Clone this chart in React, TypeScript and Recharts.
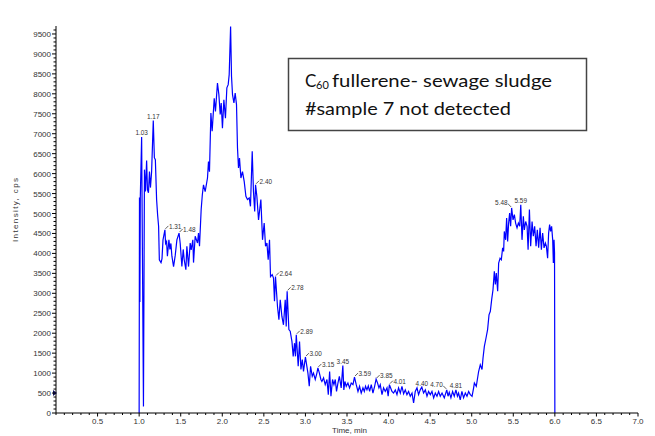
import React from 'react';
import { LineChart, Line, XAxis, YAxis, ReferenceDot } from 'recharts';

// retention time (min) and intensity (cps)
const times = [
  1.0, 1.004, 1.009, 1.014, 1.03, 1.052, 1.064, 1.076, 1.09, 1.1, 1.112, 1.124, 1.136, 1.15,
  1.17, 1.183, 1.195, 1.21, 1.222, 1.234, 1.243, 1.263, 1.275, 1.287, 1.31, 1.318, 1.33, 1.34,
  1.358, 1.37, 1.382, 1.394, 1.414, 1.434, 1.454, 1.48, 1.494, 1.514, 1.53, 1.542, 1.562, 1.574,
  1.594, 1.614, 1.626, 1.646, 1.654, 1.674, 1.702, 1.714, 1.726, 1.746, 1.76, 1.774, 1.794, 1.822,
  1.834, 1.846, 1.863, 1.878, 1.903, 1.918, 1.942, 1.959, 1.975, 1.987, 2.002, 2.019, 2.038, 2.055,
  2.071, 2.083, 2.1, 2.111, 2.123, 2.14, 2.155, 2.171, 2.183, 2.195, 2.207, 2.224, 2.243, 2.264,
  2.284, 2.303, 2.324, 2.339, 2.36, 2.375, 2.39, 2.4, 2.416, 2.436, 2.464, 2.484, 2.504, 2.52,
  2.537, 2.552, 2.568, 2.58, 2.6, 2.616, 2.628, 2.64, 2.664, 2.681, 2.697, 2.717, 2.736, 2.757,
  2.769, 2.78, 2.801, 2.817, 2.838, 2.853, 2.869, 2.88, 2.89, 2.913, 2.929, 2.946, 2.962, 2.977,
  2.99, 3.0, 3.03, 3.046, 3.062, 3.082, 3.097, 3.118, 3.138, 3.15, 3.168, 3.186, 3.198, 3.218,
  3.238, 3.259, 3.275, 3.291, 3.307, 3.326, 3.343, 3.359, 3.374, 3.391, 3.408, 3.43, 3.45, 3.462,
  3.475, 3.491, 3.511, 3.531, 3.551, 3.572, 3.59, 3.611, 3.632, 3.651, 3.671, 3.692, 3.708, 3.723,
  3.74, 3.756, 3.772, 3.792, 3.812, 3.832, 3.85, 3.868, 3.884, 3.9, 3.921, 3.94, 3.96, 3.981,
  3.995, 4.01, 4.041, 4.06, 4.081, 4.101, 4.12, 4.141, 4.161, 4.181, 4.201, 4.221, 4.241, 4.261,
  4.282, 4.301, 4.321, 4.342, 4.361, 4.381, 4.4, 4.421, 4.442, 4.462, 4.481, 4.502, 4.522, 4.542,
  4.562, 4.582, 4.602, 4.622, 4.643, 4.67, 4.7, 4.715, 4.73, 4.75, 4.77, 4.79, 4.81, 4.828,
  4.842, 4.862, 4.882, 4.902, 4.923, 4.943, 4.963, 4.983, 5.004, 5.023, 5.032, 5.055, 5.083, 5.103,
  5.124, 5.136, 5.152, 5.172, 5.191, 5.208, 5.224, 5.24, 5.256, 5.272, 5.284, 5.296, 5.312, 5.324,
  5.341, 5.356, 5.372, 5.384, 5.392, 5.408, 5.42, 5.432, 5.444, 5.456, 5.468, 5.48, 5.497, 5.513,
  5.528, 5.545, 5.561, 5.577, 5.59, 5.605, 5.621, 5.633, 5.649, 5.666, 5.678, 5.694, 5.709, 5.726,
  5.741, 5.757, 5.774, 5.789, 5.805, 5.822, 5.838, 5.853, 5.87, 5.886, 5.898, 5.913, 5.925, 5.937,
  5.949, 5.961, 5.974, 5.982, 5.99, 5.996, 6.0,
];

const intensity = [
  0, 5400, 2780, 5400, 6920, 160, 6100, 5550, 6330, 5600, 5520, 6050, 5650, 6050,
  7330, 6400, 6350, 5350, 4970, 4680, 3840, 3770, 3870, 4340, 4590, 4250, 4300, 3930,
  4340, 4100, 4250, 3930, 3670, 3950, 4340, 4510, 4250, 3670, 4100, 3840, 3590, 4180,
  3670, 4260, 4090, 4340, 3770, 4430, 4260, 4510, 4180, 5100, 5470, 5720, 5550, 5890,
  6300, 6050, 7520, 7060, 7890, 7560, 8270, 7980, 7480, 7770, 7140, 7850, 7390, 8150,
  8230, 8480, 9690, 8440, 7980, 7770, 8020, 7730, 6640, 6140, 6390, 5890, 6050, 5800,
  5430, 5350, 5390, 5180, 6560, 5550, 5050, 5720, 5430, 4840, 5350, 4340, 4760, 4180,
  4260, 3840, 4340, 3420, 3470, 3380, 2800, 3420, 2670, 2340, 2840, 2420, 2210, 2840,
  2170, 3050, 2090, 2050, 1790, 1420, 1750, 1420, 1960, 1170, 1790, 1090, 1340, 1040,
  1250, 1400, 1000, 670, 1170, 920, 1000, 840, 1000, 1130, 1000, 840, 790, 880,
  710, 840, 460, 1040, 420, 840, 710, 840, 540, 750, 920, 630, 1190, 580,
  790, 670, 750, 630, 750, 710, 900, 710, 540, 670, 500, 630, 540, 670,
  580, 680, 540, 710, 500, 670, 850, 750, 630, 710, 460, 630, 540, 630,
  420, 710, 540, 500, 580, 460, 630, 500, 670, 480, 580, 460, 540, 420,
  500, 250, 540, 630, 460, 580, 650, 500, 580, 420, 540, 460, 540, 380,
  500, 420, 540, 420, 500, 380, 580, 420, 520, 380, 540, 420, 580, 420,
  500, 330, 540, 380, 500, 420, 540, 460, 420, 630, 750, 670, 1040, 1210,
  1090, 1380, 1670, 1880, 2090, 2460, 2550, 2840, 3090, 3550, 3220, 3510, 3050, 3760,
  3880, 3840, 4140, 4050, 4550, 4340, 4890, 4300, 4760, 5010, 4680, 5140, 4840, 4970,
  4760, 4640, 4760, 4680, 5220, 4340, 4930, 4590, 4800, 4680, 4090, 5100, 4180, 4800,
  4430, 4680, 4180, 4590, 4140, 4640, 4090, 4510, 4140, 4260, 4180, 3880, 4510, 4720,
  4550, 4680, 4340, 3760, 4340, 4010, 0,
];

// labelled peak apexes
const peakTimes = [1.03, 1.17, 1.31, 1.48, 2.1, 2.4, 2.64, 2.78, 2.89, 3.0, 3.15, 3.45, 3.59, 3.85, 4.01, 4.4, 4.7, 4.81, 5.48, 5.59];
const leaderRight = [1.31, 1.48, 2.4, 2.64, 2.78, 2.89, 3.0, 3.15, 3.59, 3.85, 4.01];
const leaderLeft = [4.7, 5.48];

const xMajorTicks = [0.5, 1.0, 1.5, 2.0, 2.5, 3.0, 3.5, 4.0, 4.5, 5.0, 5.5, 6.0, 6.5, 7.0];
const yMajorTicks = [0, 500, 1000, 1500, 2000, 2500, 3000, 3500, 4000, 4500, 5000, 5500, 6000, 6500, 7000, 7500, 8000, 8500, 9000, 9500];

const chartData = times.map((t, i) => ({ t, v: intensity[i] }));

// minor ticks every 0.1 min / 100 cps
const xTicks: number[] = [];
for (let i = 0; i <= 70; i++) xTicks.push(i / 10);
const yTicks: number[] = [];
for (let i = 0; i <= 96; i++) yTicks.push(i * 100);

const FONT = 'Liberation Sans, Arial, sans-serif';

const YTick = (props: any) => {
  const { x, y, payload } = props;
  const v = payload.value;
  const major = yMajorTicks.includes(v);
  return (
    <g>
      <line x1={x - (major ? 4 : 2.5)} x2={x} y1={y} y2={y} stroke="#000" strokeWidth={1} />
      {major && (
        <text x={x - 5} y={y + 3} textAnchor="end" fontSize={8} fill="#333" fontFamily={FONT}>
          {v}
        </text>
      )}
    </g>
  );
};

const XTick = (props: any) => {
  const { x, y, payload } = props;
  const v = Math.round(payload.value * 10) / 10;
  const major = xMajorTicks.includes(v);
  return (
    <g>
      <line x1={x} x2={x} y1={y} y2={y + (major ? 3.5 : 2)} stroke="#000" strokeWidth={1} />
      {major && (
        <text x={x} y={y + 10.5} textAnchor="middle" fontSize={8} fill="#333" fontFamily={FONT}>
          {v.toFixed(1)}
        </text>
      )}
    </g>
  );
};

const labelProps = { fontSize: 7.5, fill: '#333', fontFamily: FONT, textLength: 12.5, lengthAdjust: 'spacingAndGlyphs' };

const PeakLabel = (props: any) => {
  const { cx, cy, payload, index } = props;
  const t = payload.t;
  if (!peakTimes.includes(t)) return <g key={`p${index}`} />;
  const txt = t.toFixed(2);
  if (leaderRight.includes(t)) {
    return (
      <g key={`p${index}`}>
        <line x1={cx + 0.5} y1={cy - 1} x2={cx + 3.5} y2={cy - 4} stroke="#333" strokeWidth={0.8} />
        <text x={cx + 4} y={cy - 1} {...labelProps}>{txt}</text>
      </g>
    );
  }
  if (leaderLeft.includes(t)) {
    return (
      <g key={`p${index}`}>
        <line x1={cx - 0.5} y1={cy - 1} x2={cx - 3.5} y2={cy - 4} stroke="#333" strokeWidth={0.8} />
        <text x={cx - 16.5} y={cy - 3} {...labelProps}>{txt}</text>
      </g>
    );
  }
  return (
    <g key={`p${index}`}>
      <text x={cx - 6.25} y={cy - 1.5} {...labelProps}>{txt}</text>
    </g>
  );
};

const AxisMarker = (props: any) => {
  const { cx, cy } = props;
  return <polygon points={`${cx - 3},${cy - 3} ${cx + 1},${cy} ${cx - 3},${cy + 3}`} fill="#10105a" />;
};

export default function App() {
  return (
    <div style={{ position: 'absolute', left: 0, top: 0, width: 655, height: 436, background: '#fff' }}>
      <LineChart width={655} height={436} data={chartData} margin={{ top: 26, right: 17, left: 0, bottom: 0 }}>
        <XAxis
          dataKey="t"
          type="number"
          domain={[0, 7]}
          ticks={xTicks}
          interval={0}
          tick={<XTick />}
          tickSize={0}
          tickMargin={0}
          tickLine={false}
          height={23}
          axisLine={{ stroke: '#000', strokeWidth: 1 }}
          allowDataOverflow
        />
        <YAxis
          type="number"
          domain={[0, 9700]}
          ticks={yTicks}
          interval={0}
          tick={<YTick />}
          tickSize={0}
          tickMargin={0}
          tickLine={false}
          width={56}
          axisLine={{ stroke: '#000', strokeWidth: 1 }}
          allowDataOverflow
        />
        <ReferenceDot x={0} y={500} r={3} shape={<AxisMarker />} ifOverflow="visible" />
        <Line
          type="linear"
          dataKey="v"
          stroke="#0000ff"
          strokeWidth={1.2}
          dot={PeakLabel}
          activeDot={false}
          isAnimationActive={false}
        />
      </LineChart>
      <svg width={655} height={436} style={{ position: 'absolute', left: 0, top: 0, pointerEvents: 'none' }}>
        <text
          x={18}
          y={210}
          transform="rotate(-90 18 210)"
          textAnchor="middle"
          fontSize={8}
          fill="#333"
          fontFamily={FONT}
          textLength={64}
          lengthAdjust="spacing"
        >
          Intensity, cps
        </text>
        <text x={349.5} y={433} textAnchor="middle" fontSize={8} fill="#333" fontFamily={FONT}>
          Time, min
        </text>
        <rect x={288.5} y={58.5} width={298} height={72} fill="#fff" stroke="#444" strokeWidth={1.5} />
        <g fontFamily="Lato, 'Open Sans', sans-serif" fill="#111">
          <text x={305} y={87} fontSize={17}>C</text>
          <text x={316} y={89} fontSize={11}>60</text>
          <text x={332} y={87} fontSize={17} textLength={220} lengthAdjust="spacingAndGlyphs">
            fullerene- sewage sludge
          </text>
          <text x={305} y={115} fontSize={17} textLength={206} lengthAdjust="spacingAndGlyphs">
            #sample 7 not detected
          </text>
        </g>
      </svg>
    </div>
  );
}
